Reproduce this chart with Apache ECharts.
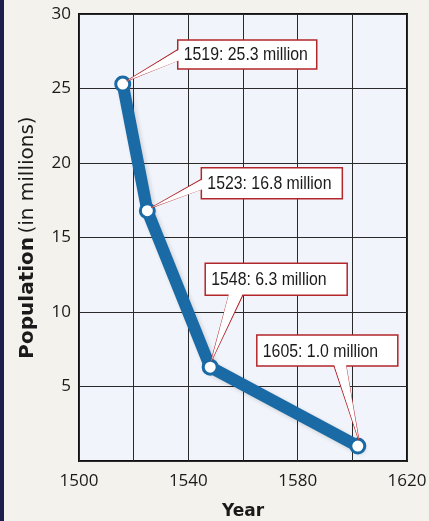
<!DOCTYPE html>
<html>
<head>
<meta charset="utf-8">
<script src="https://cdn.jsdelivr.net/npm/echarts@6/dist/echarts.min.js"></script>
<style>
html,body{margin:0;padding:0;background:#f4f2ec;}
#chart{width:429px;height:521px;}
</style>
</head>
<body>
<div id="chart"></div>
<script>
// Data
const plotYears = [1516, 1525, 1548, 1602];
const population = [25.3, 16.8, 6.3, 1.0];
const labelTexts = ['1519: 25.3 million', '1523: 16.8 million', '1548: 6.3 million', '1605: 1.0 million'];
const xTicks = [1500, 1540, 1580, 1620];
const yTicks = [5, 10, 15, 20, 25, 30];

// Callout layout (box offset from point, size, tail attach side)
const callouts = [
  {dx: 55, dy: -44, w: 139, h: 29, side: 'left', t1: 9, t2: 20},
  {dx: 54, dy: -43, w: 141, h: 31, side: 'left', t1: 11, t2: 21},
  {dx: -5, dy: -104, w: 142, h: 32, side: 'bottom', t1: 24, t2: 38},
  {dx: -101, dy: -111, w: 141, h: 31, side: 'bottom', t1: 77, t2: 89}
];

const lineData = plotYears.map((y, i) => [y, population[i]]);
const calloutData = plotYears.map((y, i) => [y, population[i], i]);

const chart = echarts.init(document.getElementById('chart'), null, {renderer: 'canvas'});
const tickFont = {fontFamily: 'Open Sans', fontSize: 17, color: '#1a1a1a'};

chart.setOption({
  backgroundColor: '#f4f2ec',
  animation: false,
  graphic: [{type: 'rect', shape: {x: 0, y: 0, width: 4, height: 521}, style: {fill: '#1d1d4f'}, z: 100}],
  grid: {left: 79, right: 22, top: 14, bottom: 60, outerBoundsMode: 'none', containLabel: false, show: true, backgroundColor: '#f1f4fa', borderColor: '#111', borderWidth: 2},
  xAxis: {
    type: 'value', min: 1500, max: 1620, interval: 20,
    name: 'Year', nameLocation: 'middle', nameGap: 42,
    nameTextStyle: {fontFamily: 'DejaVu Sans', fontWeight: 'bold', fontSize: 17, color: '#1a1a1a'},
    axisLine: {show: false}, axisTick: {show: false},
    splitLine: {show: true, lineStyle: {color: '#2a2a2a', width: 1}},
    axisLabel: Object.assign({margin: 12, formatter: v => xTicks.includes(v) ? String(v) : ''}, tickFont)
  },
  yAxis: {
    type: 'value', min: 0, max: 30, interval: 5,
    name: '{b|Population} {n|(in millions)}', nameLocation: 'middle', nameGap: 41,
    nameTextStyle: {rich: {
      b: {fontFamily: 'DejaVu Sans', fontWeight: 'bold', fontSize: 20, color: '#1a1a1a'},
      n: {fontFamily: 'DejaVu Sans', fontSize: 20, color: '#1a1a1a'}
    }},
    axisLine: {show: false}, axisTick: {show: false},
    splitLine: {show: true, lineStyle: {color: '#2a2a2a', width: 1}},
    axisLabel: Object.assign({margin: 8, formatter: v => yTicks.includes(v) ? String(v) : ''}, tickFont)
  },
  series: [
    {
      type: 'line', data: lineData,
      lineStyle: {color: '#1a6aa6', width: 12, cap: 'round', join: 'round', shadowColor: 'rgba(0,0,0,0.15)', shadowBlur: 4, shadowOffsetX: 2, shadowOffsetY: 2},
      symbol: 'circle', symbolSize: 14,
      itemStyle: {color: '#ffffff', borderColor: '#1a6aa6', borderWidth: 3},
      z: 3
    },
    {
      type: 'custom', data: calloutData, z: 5,
      renderItem: function (params, api) {
        const idx = api.value(2);
        const c = callouts[idx];
        const p = api.coord([api.value(0), api.value(1)]);
        const bx = p[0] + c.dx, by = p[1] + c.dy;
        let tail;
        if (c.side === 'left') {
          tail = [[bx + 1, by + c.t1], [p[0] + 4, p[1] - 3], [bx + 1, by + c.t2]];
        } else {
          tail = [[bx + c.t1, by + c.h - 1], [p[0] + (c.dx > 0 ? 4 : 1), p[1] - 6], [bx + c.t2, by + c.h - 1]];
        }
        return {
          type: 'group',
          children: [
            {type: 'polyline', shape: {points: tail}, style: {fill: '#ffffff', stroke: '#b3262a', lineWidth: 1.2}},
            {type: 'rect', shape: {x: bx, y: by, width: c.w, height: c.h}, style: {fill: '#ffffff', stroke: '#b3262a', lineWidth: 1.5}},
            {type: 'polygon', shape: {points: tail.map((q, k) => k === 1 ? q : [q[0] + (c.side === 'left' ? 1.5 : 0), q[1] - (c.side === 'left' ? 0 : 1.5)])}, style: {fill: '#ffffff'}, silent: true},
            {type: 'text', x: bx + 6, y: by + c.h / 2 + 1, scaleX: 0.88, style: {x: 0, y: 0, text: labelTexts[idx], fontFamily: 'Liberation Sans', fontSize: 18, fill: '#1a1a1a', verticalAlign: 'middle', align: 'left'}}
          ]
        };
      }
    }
  ]
});
</script>
</body>
</html>
